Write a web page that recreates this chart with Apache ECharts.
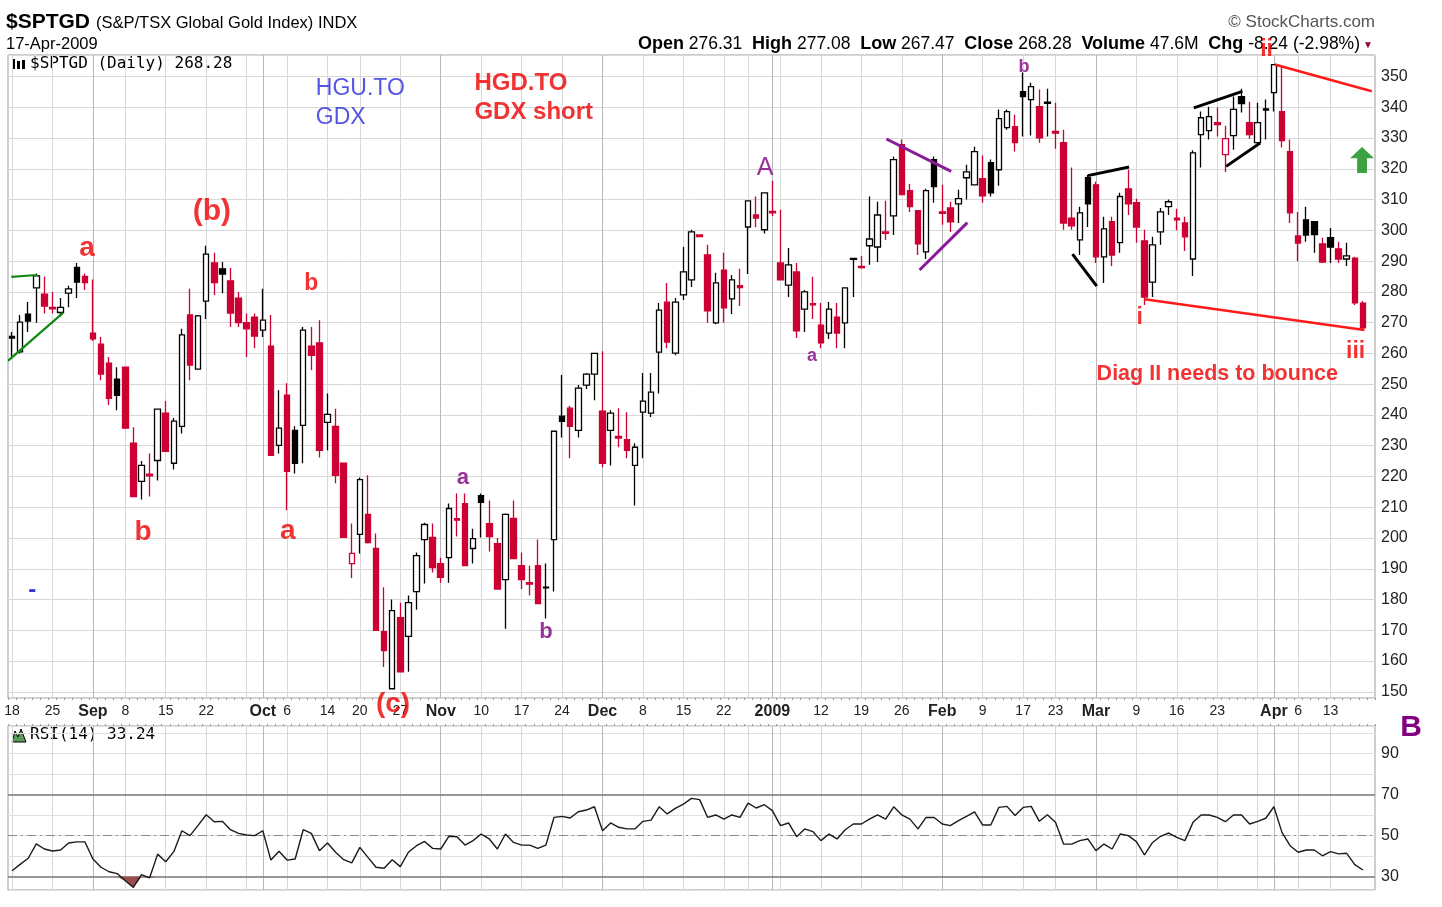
<!DOCTYPE html>
<html><head><meta charset="utf-8">
<script src="https://cdn.jsdelivr.net/npm/echarts/dist/echarts.min.js"></script>
<style>html,body{margin:0;padding:0;background:#fff}#chart{width:1442px;height:907px}</style>
</head><body><div id="chart"></div><script>
// ---------------- DATA ----------------
const opens = [265.5,260.5,272.8,281.3,279.3,275.0,273.3,279.6,288.0,285.0,
266.6,263.0,256.8,251.6,255.5,230.8,218.4,220.8,225.2,240.6,
224.3,236.3,272.5,254.9,277.0,289.4,287.5,283.6,278.0,270.0,
271.8,267.6,262.4,230.1,246.4,235.0,236.6,262.4,263.4,237.6,
236.3,224.3,191.7,201.2,207.7,196.6,169.6,151.0,174.1,168.0,
182.6,199.5,200.2,191.7,193.6,206.3,211.2,196.6,213.8,204.7,
198.2,186.5,206.4,191.0,185.5,191.0,184.0,199.5,239.6,242.2,
235.0,249.7,253.3,241.2,235.0,233.0,232.0,223.6,240.9,240.6,
260.4,276.7,260.1,279.0,283.9,298.5,292.0,269.9,287.1,277.7,
282.0,301.1,305.0,300.2,306.2,289.4,282.2,286.5,274.4,276.2,
269.2,266.6,271.8,269.9,290.9,288.3,295.0,294.6,299.5,304.7,
327.9,312.9,306.4,293.0,323.0,306.0,307.3,308.6,317.1,314.8,
316.8,322.0,319.7,333.4,333.7,345.1,342.5,340.2,341.7,332.2,
328.5,304.0,296.9,317.1,314.8,291.4,302.8,296.0,313.5,309.0,
296.6,283.2,299.5,307.7,304.0,302.4,290.7,331.1,332.4,335.0,
324.6,330.8,343.5,335.0,328.5,339.5,344.8,338.6,325.6,298.2,
303.4,302.8,295.6,297.6,294.0,290.7,291.0,276.31];
const closes = [265.0,270.2,270.5,285.2,275.4,274.5,275.0,281.0,283.2,283.0,
264.7,253.3,245.4,246.4,235.7,213.5,223.6,220.2,241.9,228.2,
238.0,266.0,256.2,272.2,292.3,283.0,285.8,273.1,270.0,268.0,
265.6,270.8,226.9,235.7,221.7,224.3,267.6,259.4,228.5,240.2,
220.4,200.2,195.0,219.0,198.5,170.0,163.4,176.4,156.5,179.0,
194.3,204.4,190.4,187.2,209.6,205.8,191.0,199.8,211.6,200.5,
183.4,207.7,193.3,186.5,185.0,178.7,183.8,234.7,237.9,236.3,
248.7,253.3,260.0,224.3,240.6,232.5,228.5,229.5,244.5,247.4,
274.1,263.7,276.7,286.5,299.5,298.0,273.8,282.9,274.8,283.9,
281.4,309.6,304.0,312.2,305.7,283.9,288.8,267.3,280.0,275.8,
263.4,274.4,266.6,281.3,290.6,287.9,297.2,305.0,299.0,323.0,
311.6,307.7,295.6,312.9,314.2,305.5,302.8,310.3,319.0,325.6,
311.2,312.2,336.3,338.6,328.5,343.5,346.7,330.1,341.3,331.6,
302.4,301.5,305.7,308.6,291.4,300.5,292.0,311.0,308.6,301.1,
278.3,295.3,306.0,309.3,303.4,297.9,325.2,336.6,337.0,334.4,
329.8,339.3,341.2,331.1,335.0,339.1,353.9,329.2,305.7,295.9,
298.5,298.6,289.7,294.6,290.7,291.7,276.4,268.28];
const lows = [259,260,267,270,273,273,272,275,278,280.6,
264,251.3,243.2,241.5,235.7,213.5,212.5,213.5,218.7,228,
222.3,234,251.3,254.9,271.2,279,279.6,268.6,268.6,258.8,
261.7,265.3,226.9,227.5,209,221,224.3,254.6,226.2,228.5,
217.8,200,187,195,198.2,169.9,158.1,151,156.5,156.5,
176.7,185.2,188.8,185.5,185.5,200.5,191,191.7,200.2,195.6,
183.4,170.5,193.3,183.4,181.3,178.7,173.8,182.6,232.7,225.9,
232.7,248.4,244.8,223,223.6,229.5,225.9,210.6,225.9,239.3,
247,261.7,259.4,277.4,281.6,298,270,269.5,270,272.8,
275.4,285.8,301,299,304.7,283.9,278.3,265,267,271.2,
261.7,264.7,261.7,261.7,278.3,287.5,288.8,289.7,296.9,298.5,
311.6,306,292,290.7,309,301.8,299.5,302.4,310,314.8,
309,311,314.5,332.7,325.6,330.5,330.8,328.5,330.5,326.5,
300.2,300.2,292,301.1,289.4,282.9,288.4,292.7,305,296,
275.7,278.3,295.3,305,300,293.3,285.2,320.4,329.5,330.5,
319,326.2,338.3,329.8,327.9,329.5,338.6,326.9,302.4,290,
296.3,292.7,289.4,289.4,289.4,288.4,275.7,267.47];
const highs = [267,272.5,276.7,286,285,280,278,282,289.4,286,
284,265.3,258.8,255.5,255.5,236,225,227.5,242,244.5,
239,268,281,272.5,295,292.7,289.7,287.8,280,273,
273,281,272.5,248,250.3,236.3,268.6,268.6,270.8,247,
242,224.5,204.7,219.7,220.4,201.5,184,180,179,181.3,
195.3,205,204.7,193.6,211.2,214.5,214.5,203,214.5,212.2,
200,208,212.2,195.3,191,199.5,191.7,234.7,253,243,
249.7,253.6,260,260.7,241.5,242.2,240.9,230.8,253.6,253.6,
276.4,282.9,278,294.6,300.2,298.5,295.3,286.2,292.7,285.5,
287.5,309.6,311,312.2,316.1,306.7,294.3,289.4,280.6,284.9,
276.4,276.7,276.4,281.3,291,291.7,311,309.3,309.6,324,
329.5,315.1,306.4,313.5,324,314.8,309.3,313.2,321.3,327.2,
324.3,323,339.3,339.3,337.6,351.3,348,345.8,346,341.5,
332.7,320.4,307.7,318,315.8,304.4,304.4,312.2,319.7,310.3,
300.2,297.9,307.3,310,307,304.4,326,338.6,340.2,339.9,
334,343.5,346,341.8,341.5,342.5,353.9,353.3,329.5,306,
307.7,302.8,297.6,300.8,296.3,296,291.4,277.08];
const rsi = [32.9,36,39,46,43.5,42.5,43,46.4,47,47,
38.6,34.6,32.4,31.5,28,24.8,31,29.4,41,37.3,
42.2,52.4,50,55,60.2,56.8,57,52.9,51.1,50.3,
50,52.4,38.1,42.4,38.1,38.6,52.9,51.1,42.7,46.4,
41.9,38.3,36.7,44.3,39.4,34.6,34.1,38.3,34.9,41.9,
45.1,47.2,43.8,43.5,49.7,49.5,45.4,47.6,50.8,48.4,
43.5,50.8,46.7,45.4,45.4,43.8,45.4,58.9,59.4,58.6,
61.7,62.5,64.1,52.4,56.2,54.1,53.3,53.3,57,57.6,
64.1,60.6,63.3,65.4,68.2,67.6,58.9,60.1,58.1,60.1,
58.9,65.9,63.5,65.1,62.2,54.9,56.2,49.5,53.3,52,
47.6,50.8,48.4,52.9,55.7,55.7,58.1,60.2,58.1,64.1,
60.1,58.1,53.3,58.9,58.9,55.7,54.9,57.3,59.4,61.6,
55.2,55.2,63.8,64.3,59.8,63.8,64.3,57,60.2,56.5,
45.9,45.9,47.6,48.4,42.7,45.9,43.5,50.8,50,47.1,
40.6,46.7,49.7,51.3,49.2,47.6,56.5,60.1,60.1,58.9,
56.8,60.1,60.1,55.7,57,58.5,64.1,51.6,45.1,41.9,
43,43,40.2,42.2,41.1,41.4,35.9,33.24];
const prevClose0 = 264.0;
const startDate = '2008-08-18';
const holidays = ['2008-09-01','2008-10-13','2008-12-25','2008-12-26','2009-01-01','2009-02-16','2009-04-10'];
const tickIdx  = [0,5,10,14,19,24,31,34,39,43,48,53,58,63,68,73,78,83,88,94,100,105,110,115,120,125,129,134,139,144,149,156,159,163];
const tickText = ['18','25','Sep','8','15','22','Oct','6','14','20','27','Nov','10','17','24','Dec','8','15','22','2009','12','19','26','Feb','9','17','23','Mar','9','16','23','Apr','6','13'];
const monthIdx = [10,31,53,73,94,115,134,156];
const weekIdx  = [0,5,10,14,19,24,29,34,39,43,48,53,58,63,68,73,78,83,88,91,95,100,105,110,115,120,125,129,134,139,144,149,154,159,163];
// annotations: [text, x(index), y(price), kind]
const notes = [
  ['a',9.27,294.3,'redL'],['(b)',24.7,306.0,'redXL'],['b',37.0,282.6,'redM'],
  ['b',16.2,202.0,'redL'],['a',34.1,202.3,'redL'],['(c)',47.1,145.8,'redL'],
  ['-',2.5,183.1,'blueDash'],
  ['A',93.1,320.3,'purpleL'],['a',55.75,219.5,'purpleM'],['b',66.0,169.5,'purpleM'],
  ['a',98.9,259.2,'purpleS'],['b',125.1,353.1,'purpleS'],
  ['i',139.4,271.5,'redM'],['ii',155.1,358.6,'redM'],['iii',166.1,260.5,'redM'],
  ['Diag II needs to bounce',149.0,253.3,'redB']
];
const leftNotes = [
  ['HGU.TO',37.5,345.9,'blueT'],['GDX',37.5,336.5,'blueT'],
  ['HGD.TO',57.1,347.9,'redT'],['GDX short',57.1,338.5,'redT']
];
// trend lines: [x1,y1,x2,y2,kind]
const trendLines = [
  [-0.1,284.9,3.1,285.5,'green'],[-0.5,257.6,6.3,273.2,'green'],
  [108.1,329.7,116.1,319.2,'purple'],[112.2,287.1,118.1,302.5,'purple'],
  [133.0,317.8,138.1,320.6,'black'],[131.1,292.3,134.1,281.9,'black'],
  [146.1,339.8,152.1,345.2,'black'],[150.1,320.8,154.3,328.4,'black'],
  [156.1,353.9,168.1,345.2,'red'],[140.0,277.6,167.2,267.6,'red']
];
const arrowPos = [166.9, 322.9];

// ---------------- STYLE ----------------
const SANS = '"Liberation Sans", Arial, sans-serif';
const MONO = '"DejaVu Sans Mono", monospace';
const CANDLE_RED = '#cc0033', CANDLE_BLACK = '#000000';
const noteStyle = {
  redL:{color:'#ee0000',fontSize:28,fontWeight:'bold'},
  redXL:{color:'#ee0000',fontSize:30,fontWeight:'bold'},
  redM:{color:'#ee0000',fontSize:23,fontWeight:'bold'},
  redB:{color:'#ee0000',fontSize:21.5,fontWeight:'bold'},
  redT:{color:'#ee0000',fontSize:24,fontWeight:'bold'},
  blueT:{color:'#2b2bdd',fontSize:23,fontWeight:'normal'},
  blueDash:{color:'#0000cc',fontSize:24,fontWeight:'bold'},
  purpleL:{color:'#800080',fontSize:25,fontWeight:'normal'},
  purpleM:{color:'#800080',fontSize:22,fontWeight:'bold'},
  purpleS:{color:'#800080',fontSize:18,fontWeight:'bold'}
};
const lineStyleKind = {
  green:{color:'#138a13',width:2.2,opacity:1}, purple:{color:'#8a1a9a',width:3,opacity:1},
  black:{color:'#000',width:3,opacity:1}, red:{color:'#ff1a1a',width:2.5,opacity:1}
};

// ---------------- BUILD ----------------
const cats = [];
(function(){
  const d = new Date(startDate + 'T00:00:00Z');
  while (cats.length < opens.length) {
    const iso = d.toISOString().slice(0,10);
    const wd = d.getUTCDay();
    if (wd !== 0 && wd !== 6 && holidays.indexOf(iso) < 0) cats.push(iso);
    d.setUTCDate(d.getUTCDate() + 1);
  }
  cats.push('');
})();
const N = cats.length;
const XMIN = -0.5, XMAX = N - 0.5;
const labelMap = {}; tickIdx.forEach((k,j)=>labelMap[k]=tickText[j]);
const monthSet = new Set(monthIdx);

const candleData = opens.map((o,i)=>{
  const c = closes[i], prev = i ? closes[i-1] : prevClose0;
  const col = c >= prev ? CANDLE_BLACK : CANDLE_RED;
  const up = c > o;
  return {value:[o,c,lows[i],highs[i]],
    itemStyle:{color: up ? '#ffffff' : col, color0: col, borderColor: col, borderColor0: col}};
});

const gridSet = Array.from(new Set(weekIdx.concat(monthIdx))).sort((a,b)=>a-b);
const PMIN = 148, PMAX = 357, RMIN = 23.5, RMAX = 103.5;
const priceGridLines = gridSet.map(k=>({coords:[[k,PMIN],[k,PMAX]],
  lineStyle:{color: monthSet.has(k) ? '#b8b8b8' : '#d8d8d8', width:1, opacity:1}}));
const rsiGridLines = gridSet.map(k=>({coords:[[k,RMIN],[k,RMAX]],
  lineStyle:{color: monthSet.has(k) ? '#b8b8b8' : '#d8d8d8', width:1, opacity:1}}));
rsiGridLines.push({coords:[[XMIN,30],[XMAX,30]],lineStyle:{color:'#7a7a7a',width:1.5,opacity:1}});
rsiGridLines.push({coords:[[XMIN,70],[XMAX,70]],lineStyle:{color:'#7a7a7a',width:1.5,opacity:1}});
rsiGridLines.push({coords:[[XMIN,50],[XMAX,50]],lineStyle:{color:'#8a8a8a',width:1.2,type:[9,4,2,4],opacity:1}});

const trendData = trendLines.map(t=>({coords:[[t[0],t[1]],[t[2],t[3]]], lineStyle:lineStyleKind[t[4]]}));
const noteData = notes.map(n=>({value:[n[1],n[2]], label:Object.assign({show:true, position:'inside', formatter:n[0], fontFamily:SANS}, noteStyle[n[3]])}));
const leftNoteData = leftNotes.map(n=>({value:[n[1],n[2]], label:Object.assign({show:true, position:'right', distance:0, formatter:n[0], fontFamily:SANS}, noteStyle[n[3]])}));

const rsiBase = rsi.map(v=>Math.min(v,30));
const rsiFill = rsi.map(v=>30 - Math.min(v,30));

const chart = echarts.init(document.getElementById('chart'), null, {renderer:'canvas'});
const option = {
  animation:false,
  backgroundColor:'#ffffff',
  textStyle:{fontFamily:SANS},
  grid:[
    {left:8, right:67, top:55, height:643, show:true, borderColor:'#9c9c9c', borderWidth:1, backgroundColor:'#fff'},
    {left:8, right:67, top:726, height:164, show:true, borderColor:'#9c9c9c', borderWidth:1, backgroundColor:'#fff'}
  ],
  xAxis:[
    {type:'category', gridIndex:0, data:cats, boundaryGap:true,
     axisLine:{show:false}, splitLine:{show:false},
     axisTick:{show:true, interval:0, length:2, lineStyle:{color:'#999'}},
     axisLabel:{interval:(i)=>labelMap[i]!==undefined, margin:6, fontSize:14, color:'#222', fontFamily:SANS,
       formatter:(v,i)=>{const t=labelMap[i]; if(t===undefined) return ''; return monthSet.has(i)?'{m|'+t+'}':t;},
       rich:{m:{fontWeight:'bold', fontSize:16, color:'#222', fontFamily:SANS}}}},
    {type:'value', gridIndex:0, min:XMIN, max:XMAX, show:false},
    {type:'category', gridIndex:1, data:cats, boundaryGap:true, position:'top',
     axisLine:{show:false}, splitLine:{show:false}, axisLabel:{show:false},
     axisTick:{show:true, interval:0, length:2, lineStyle:{color:'#999'}}},
    {type:'value', gridIndex:1, min:XMIN, max:XMAX, show:false}
  ],
  yAxis:[
    {type:'value', gridIndex:0, position:'right', min:PMIN, max:PMAX, splitNumber:21,
     axisLine:{show:false}, axisTick:{show:false},
     axisLabel:{showMinLabel:false, showMaxLabel:false, margin:6, fontSize:16, color:'#222', fontFamily:SANS},
     splitLine:{lineStyle:{color:'#d8d8d8'}}},
    {type:'value', gridIndex:1, position:'right', min:RMIN, max:RMAX, splitNumber:8,
     axisLine:{show:false}, axisTick:{show:false},
     axisLabel:{showMinLabel:false, showMaxLabel:false, margin:6, fontSize:16, color:'#222', fontFamily:SANS,
       formatter:(v)=>([30,50,70,90].indexOf(Math.round(v))>=0 && Math.abs(v-Math.round(v))<1e-6)?String(Math.round(v)):''},
     splitLine:{lineStyle:{color:'#e0e0e0'}}}
  ],
  series:[
    {type:'lines', coordinateSystem:'cartesian2d', xAxisIndex:1, yAxisIndex:0, z:1, silent:true, data:priceGridLines},
    {type:'candlestick', xAxisIndex:0, yAxisIndex:0, z:3, barWidth:6, silent:true, data:candleData,
     itemStyle:{borderWidth:1.3}},
    {type:'lines', coordinateSystem:'cartesian2d', xAxisIndex:1, yAxisIndex:0, z:4, silent:true, data:trendData},
    {type:'scatter', xAxisIndex:1, yAxisIndex:0, z:5, silent:true, clip:false, symbol:'rect', symbolSize:1,
     itemStyle:{color:'rgba(0,0,0,0)'}, data:noteData.concat(leftNoteData)},
    {type:'scatter', xAxisIndex:1, yAxisIndex:0, z:5, silent:true, clip:false,
     symbol:'path://M11,0 L22,11 L15.5,11 L15.5,25 L6.5,25 L6.5,11 L0,11 Z', symbolSize:[24,26],
     itemStyle:{color:'#0a8a12'}, data:[arrowPos]},
    {type:'lines', coordinateSystem:'cartesian2d', xAxisIndex:3, yAxisIndex:1, z:1, silent:true, data:rsiGridLines},
    {type:'line', xAxisIndex:2, yAxisIndex:1, stack:'os', symbol:'none', silent:true, z:2,
     lineStyle:{width:0, opacity:0}, data:rsiBase},
    {type:'line', xAxisIndex:2, yAxisIndex:1, stack:'os', symbol:'none', silent:true, z:2,
     lineStyle:{width:0, opacity:0}, areaStyle:{color:'#9a4b4b', opacity:1}, data:rsiFill},
    {type:'line', xAxisIndex:2, yAxisIndex:1, symbol:'none', silent:true, z:3,
     lineStyle:{color:'#1a1a1a', width:1.4}, data:rsi}
  ],
  graphic:[
    {type:'text', x:6, y:22, style:{text:'$SPTGD', font:'bold 21px '+SANS, fill:'#000', verticalAlign:'middle'}},
    {type:'text', x:96, y:23, style:{text:'(S&P/TSX Global Gold Index) INDX', font:'16.5px '+SANS, fill:'#000', verticalAlign:'middle'}},
    {type:'text', x:6, y:44, style:{text:'17-Apr-2009', font:'16.5px '+SANS, fill:'#000', verticalAlign:'middle'}},
    {type:'text', x:1375, y:22, style:{text:'© StockCharts.com', font:'17px '+SANS, fill:'#555', align:'right', verticalAlign:'middle'}},
    {type:'text', x:1360, y:44, style:{
      text:'{b|Open} 276.31  {b|High} 277.08  {b|Low} 267.47  {b|Close} 268.28  {b|Volume} 47.6M  {b|Chg} -8.24 (-2.98%)',
      font:'17.5px '+SANS, fill:'#000', align:'right', verticalAlign:'middle',
      rich:{b:{font:'bold 18px '+SANS, fill:'#000'}}}},
    {type:'text', x:1368, y:45, style:{text:'▼', font:'10px '+SANS, fill:'#990033', align:'center', verticalAlign:'middle'}},
    {type:'rect', shape:{x:12, y:59, width:3, height:10}, style:{fill:'#000'}},
    {type:'rect', shape:{x:17, y:61, width:3, height:8}, style:{fill:'#000'}},
    {type:'rect', shape:{x:22, y:60, width:3, height:9}, style:{fill:'#000'}},
    {type:'text', x:30, y:64, style:{text:'$SPTGD (Daily) 268.28', font:'16px '+MONO, fill:'#000', verticalAlign:'middle'}},
    {type:'polygon', shape:{points:[[12,742],[15,731],[18,737],[21,729],[26,742]]}, style:{fill:'#5a9a5a', stroke:'#000', lineWidth:1}},
    {type:'text', x:30, y:735, style:{text:'RSI(14) 33.24', font:'16px '+MONO, fill:'#000', verticalAlign:'middle'}},
    {type:'text', x:1411, y:728, style:{text:'B', font:'bold 30px '+SANS, fill:'#800080', align:'center', verticalAlign:'middle'}}
  ]
};
chart.setOption(option);
</script></body></html>
